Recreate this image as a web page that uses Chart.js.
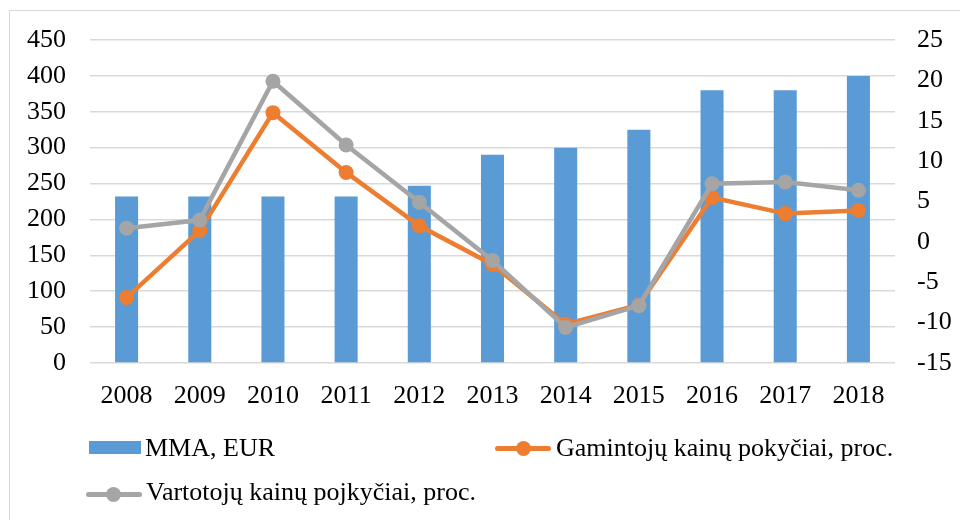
<!DOCTYPE html>
<html lang="lt">
<head>
    <meta charset="UTF-8">
    <title>MMA ir kainų pokyčiai</title>
    <style>
        body {
            margin: 0;
            padding: 0;
            background-color: #fff;
            font-family: "Liberation Serif", "Times New Roman", serif;
        }
        .wrap {
            position: relative;
            width: 960px;
            height: 520px;
            overflow: hidden;
        }
        .frame {
            position: absolute;
            left: 9px;
            top: 10px;
            width: 1000px;
            height: 600px;
            border: 1.5px solid #d9d9d9;
        }
        canvas {
            position: absolute;
            left: 0;
            top: 0;
        }
        .legend-item {
            position: absolute;
            font-size: 26px;
            line-height: 26px;
            color: #000;
            white-space: nowrap;
        }
        .box {
            position: absolute;
            width: 52px;
            height: 13px;
            background: #5b9bd5;
        }
        .line {
            position: absolute;
            width: 56px;
            height: 5px;
            border-radius: 3px;
        }
        .dot {
            position: absolute;
            width: 15px;
            height: 15px;
            border-radius: 50%;
        }
    </style>
    <script src="https://cdn.jsdelivr.net/npm/chart.js"></script>
</head>
<body>
    <div class="wrap">
        <div class="frame"></div>
        <canvas id="chart" width="960" height="520"></canvas>

        <div class="box" style="left:89px; top:441px;"></div>
        <div class="legend-item" style="left:145px; top:435px;">MMA, EUR</div>

        <div class="line" style="left:495px; top:446px; background:#ed7d31;"></div>
        <div class="dot" style="left:516px; top:441px; background:#ed7d31;"></div>
        <div class="legend-item" style="left:556px; top:435px;">Gamintojų kainų pokyčiai, proc.</div>

        <div class="line" style="left:86px; top:492px; background:#a5a5a5;"></div>
        <div class="dot" style="left:106px; top:487px; background:#a5a5a5;"></div>
        <div class="legend-item" style="left:146px; top:479px;">Vartotojų kainų pojkyčiai, proc.</div>
    </div>
    <script>
        const years = ['2008', '2009', '2010', '2011', '2012', '2013', '2014', '2015', '2016', '2017', '2018'];
        const mma = [232, 232, 232, 232, 247, 290, 300, 325, 380, 380, 400];
        const producerPrices = [-6.9, 1.4, 16.0, 8.6, 2.0, -2.8, -10.2, -7.8, 5.5, 3.5, 3.9];
        const consumerPrices = [1.7, 2.7, 19.9, 12.0, 4.9, -2.3, -10.6, -7.9, 7.2, 7.4, 6.4];

        const fontFamily = '"Liberation Serif", "Times New Roman", serif';
        const tickFont = { family: fontFamily, size: 26 };

        new Chart(document.getElementById('chart').getContext('2d'), {
            data: {
                labels: years,
                datasets: [
                    {
                        type: 'line',
                        label: 'Vartotojų kainų pojkyčiai, proc.',
                        data: consumerPrices,
                        yAxisID: 'y1',
                        borderColor: '#a5a5a5',
                        backgroundColor: '#a5a5a5',
                        borderWidth: 4.5,
                        pointRadius: 7.5,
                        pointHoverRadius: 7.5,
                        pointBorderWidth: 0,
                        tension: 0,
                        order: 1
                    },
                    {
                        type: 'line',
                        label: 'Gamintojų kainų pokyčiai, proc.',
                        data: producerPrices,
                        yAxisID: 'y1',
                        borderColor: '#ed7d31',
                        backgroundColor: '#ed7d31',
                        borderWidth: 4.5,
                        pointRadius: 7.5,
                        pointHoverRadius: 7.5,
                        pointBorderWidth: 0,
                        tension: 0,
                        order: 2
                    },
                    {
                        type: 'bar',
                        label: 'MMA, EUR',
                        data: mma,
                        yAxisID: 'y',
                        backgroundColor: '#5b9bd5',
                        categoryPercentage: 1,
                        barPercentage: 0.315,
                        order: 3
                    }
                ]
            },
            options: {
                responsive: false,
                animation: false,
                layout: {
                    padding: { left: 0, right: 0, top: 40, bottom: 107 }
                },
                plugins: {
                    legend: { display: false },
                    tooltip: { enabled: false }
                },
                scales: {
                    x: {
                        grid: { display: false },
                        border: { display: false },
                        ticks: { font: tickFont, color: '#000', padding: 10, maxRotation: 0 },
                        afterFit: function(scale) { scale.height = 50; }
                    },
                    y: {
                        position: 'left',
                        min: 0,
                        max: 450,
                        grid: { color: '#d9d9d9', lineWidth: 1.5, drawTicks: false },
                        border: { display: false },
                        ticks: { stepSize: 50, font: tickFont, color: '#000', padding: 24 },
                        afterFit: function(scale) { scale.width = 90; }
                    },
                    y1: {
                        position: 'right',
                        min: -15,
                        max: 25,
                        grid: { display: false, drawTicks: false },
                        border: { display: false },
                        ticks: { stepSize: 5, font: tickFont, color: '#000', padding: 22 },
                        afterFit: function(scale) { scale.width = 65; }
                    }
                }
            }
        });
    </script>
</body>
</html>
